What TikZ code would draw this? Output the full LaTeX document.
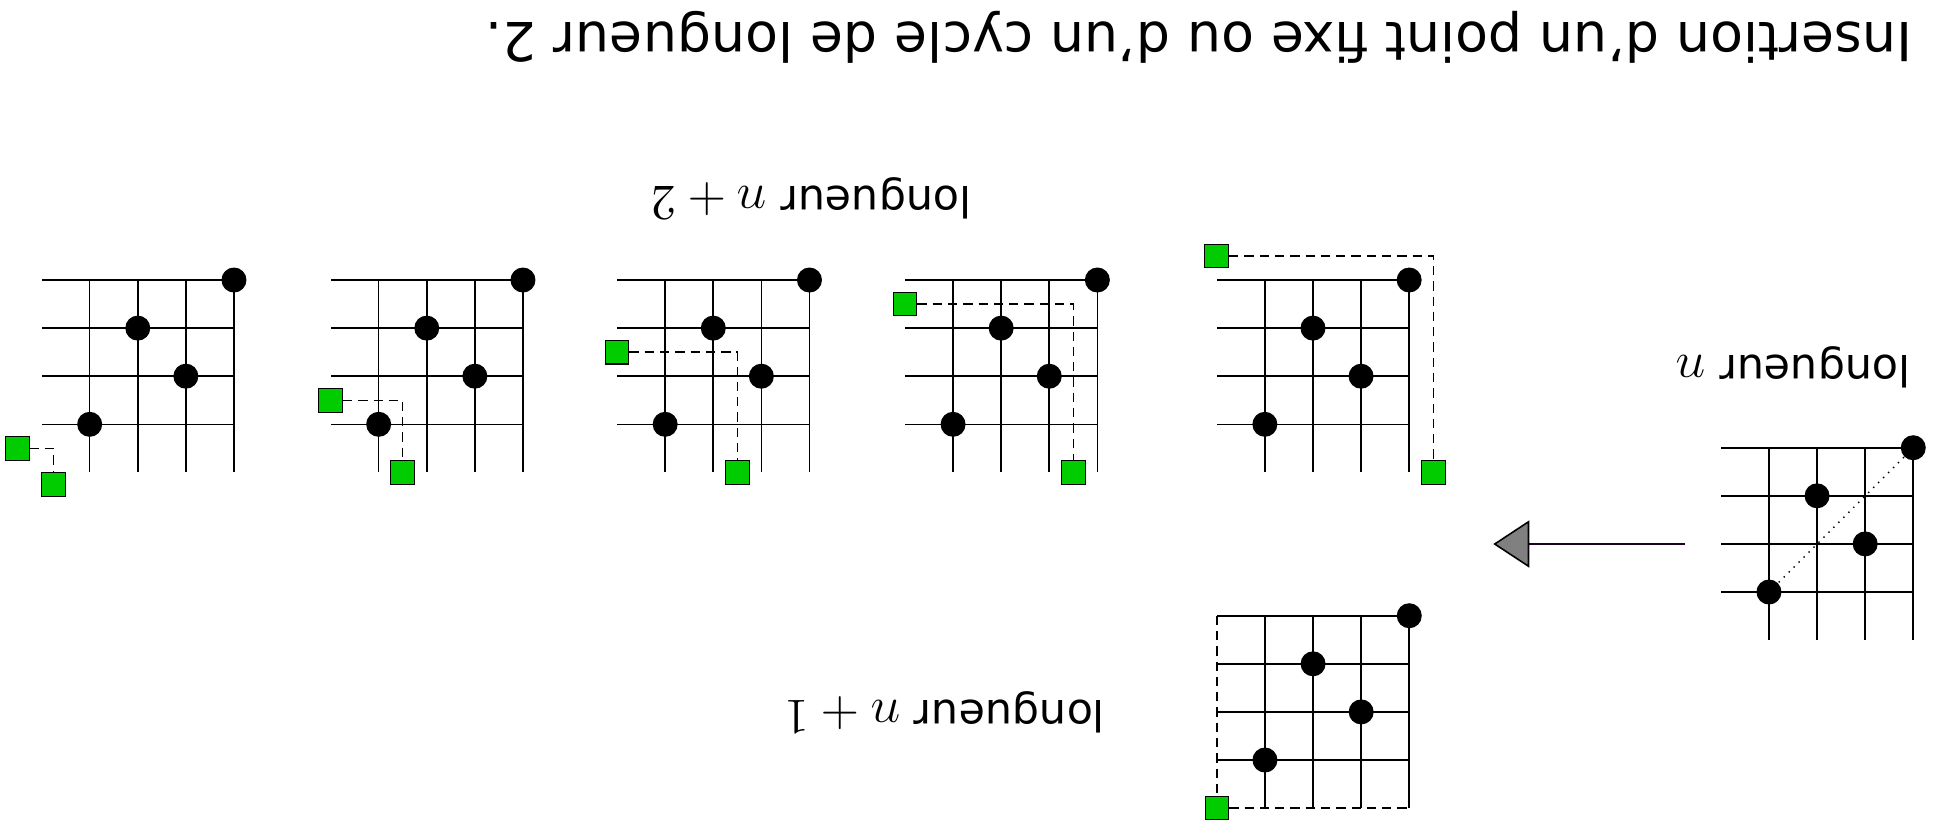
\documentclass[tikz,border=0pt]{standalone}
\usepackage[no-math]{fontspec}
\setmainfont{DejaVu Sans}
\usetikzlibrary{arrows.meta}

\definecolor{vertneuf}{RGB}{0,204,0}
\definecolor{trait}{RGB}{28,4,32}

\tikzset{
  pt/.style={circle,fill=black,inner sep=0pt,minimum size=0.25cm},
  neuf/.style={draw=black,line width=0.3pt,fill=vertneuf,inner sep=0pt,minimum size=0.237cm},
  grille/.style={line width=0.45pt},
  tirets/.style={line width=0.4pt,dash pattern=on 2.65pt off 1.7pt},
  diag/.style={line width=0.4pt,dash pattern=on 0.4pt off 1.6pt},
  etiq/.style={font=\fontsize{12.2}{15}\selectfont,inner sep=0pt},
  titre/.style={font=\fontsize{15.3}{18}\selectfont,inner sep=0pt},
}
\newcommand{\grandmath}[1]{{\fontsize{13.7}{16}\selectfont$#1$}}

% grille d'une permutation de longueur 4, coin en #2
\newcommand{\perm}[2]{%
  \begin{scope}[shift={#2}]
    \foreach \k in {0,...,3}{
      \draw[grille] (\k,0) -- (\k,4);
      \draw[grille] (0,\k) -- (4,\k);
    }
    \foreach \i/\j [count=\c] in {0/0,2/1,1/2,3/3}
      \node[pt] (#1\c) at (\i,\j) {};
  \end{scope}}

\begin{document}
\begin{tikzpicture}[x=0.481cm,y=0.481cm,rotate=180,transform shape]
  \useasboundingbox (0cm,0cm) rectangle (19.33cm,8.33cm);

  % permutation de depart
  \perm{r}{(0.197cm,4.477cm)}
  \draw[diag] (r1) -- (r4);
  \node[etiq] (lgn) at (1.396cm,3.67cm) {longueur \grandmath{n}};

  % fleche
  \coordinate (depart) at (2.477cm,5.44cm);
  \coordinate (arrivee) at (4.397cm,5.44cm);
  \draw[trait,line width=0.45pt,-{Triangle[length=0.36cm,width=0.47cm,color=black,fill=gray]}] (depart) -- (arrivee);

  % point fixe
  \perm{a}{(5.237cm,6.157cm)}
  \begin{scope}[shift={(5.237cm,6.157cm)}]
    \node[neuf] (a5) at (4,4) {};
    \draw[tirets] (4,0) -- (a5) -- (0,4);
  \end{scope}
  \node[etiq] (lgn1) at (9.88cm,7.12cm) {longueur \grandmath{n+1}};

  % cycles de longueur 2
  \foreach \nom/\px/\ux/\uy/\vx/\vy in {b/5.238cm/4/-0.5/-0.5/4, c/8.356cm/4/0.5/0.5/4,
      d/11.235cm/4/1.5/1.5/4, e/14.10cm/4/2.5/2.5/4, f/16.99cm/4.5/3.5/3.75/4.25}{
    \perm{\nom}{(\px,2.80cm)}
    \begin{scope}[shift={(\px,2.80cm)}]
      \node[neuf] (\nom u) at (\ux,\uy) {};
      \node[neuf] (\nom v) at (\vx,\vy) {};
      \draw[tirets] (\nom u) -- (\nom v |- \nom u) -- (\nom v);
    \end{scope}
  }
  \node[etiq] (lgn2) at (11.215cm,1.98cm) {longueur \grandmath{n+2}};

  \node[titre] (titre) at (7.34cm,0.37cm) {Insertion d'un point fixe ou d'un cycle de longueur 2.};
\end{tikzpicture}
\end{document}
